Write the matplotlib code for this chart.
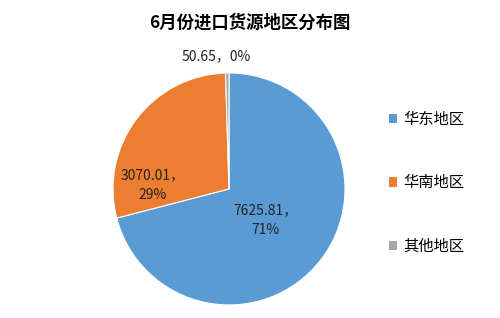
import numpy as np
import matplotlib.pyplot as plt
from matplotlib.patches import Patch

plt.rcParams['font.family'] = ['Noto Sans CJK SC', 'DejaVu Sans']

### Data ###
regions = ['华东地区', '华南地区', '其他地区']
values = [7625.81, 3070.01, 50.65]
colors = ['#5B9BD5', '#ED7D31', '#A5A5A5']

total = sum(values)
pcts = [v / total * 100 for v in values]

### Plot ###
fig = plt.figure(figsize=(5, 3.18), dpi=100)
ax = fig.add_axes([0.226, 0.041, 0.464, 0.7296])

wedges, _ = ax.pie(values, colors=colors, startangle=90, counterclock=False,
                   radius=1, wedgeprops=dict(edgecolor='white', linewidth=0.8))
ax.set_xlim(-1, 1)
ax.set_ylim(-1, 1)
ax.set_aspect('auto')
ax.axis('off')

# data labels (value, percent) - placed like the excel chart
lab_pos = [(0.31, -0.27), (-0.66, 0.03), (-0.11, 1.14)]
for i, (x, y) in enumerate(lab_pos):
    if i < 2:
        txt = '%.2f，\n%d%%' % (values[i], round(pcts[i]))
    else:
        txt = '%.2f，%d%%' % (values[i], round(pcts[i]))
    ax.text(x, y, txt, ha='center', va='center', fontsize=10,
            color='#222222', linespacing=1.5, clip_on=False)

fig.text(0.5, 0.93, '6月份进口货源地区分布图', ha='center', va='center',
         fontsize=12.5, fontweight='bold')

handles = [Patch(facecolor=c, edgecolor='none') for c in colors]
fig.legend(handles, regions, loc='center left', bbox_to_anchor=(0.75, 0.425),
           frameon=False, fontsize=11, labelspacing=3.05, handlelength=0.55,
           handleheight=0.55, handletextpad=0.4)

fig.savefig('out.png', dpi=100)
